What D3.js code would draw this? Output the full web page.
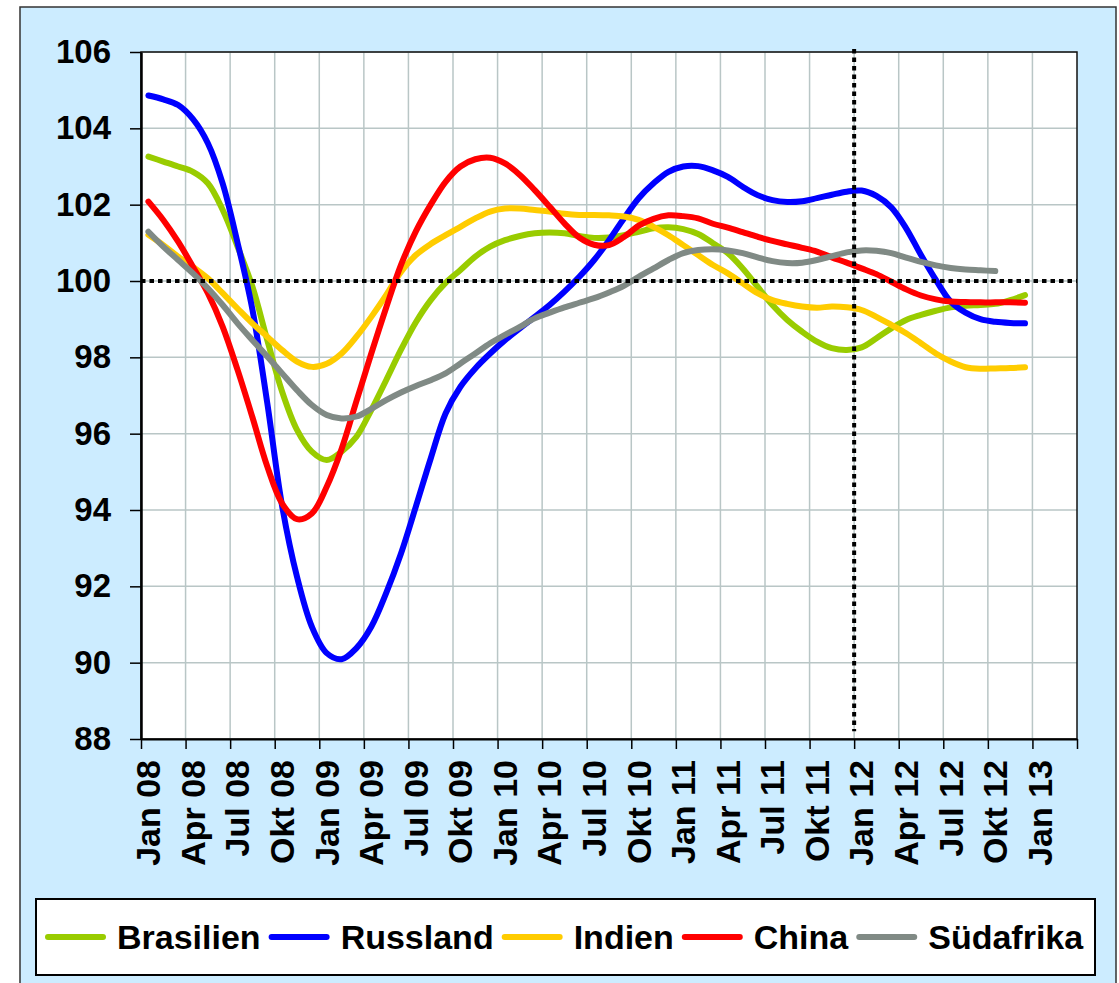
<!DOCTYPE html>
<html>
<head>
<meta charset="utf-8">
<script src="https://cdn.jsdelivr.net/npm/d3@7"></script>
<style>
  body { margin: 0; background: #fff; }
  svg text { font-family: "Liberation Sans", Arial, sans-serif; font-weight: bold; fill: #000; }
</style>
</head>
<body>
<div id="chart"></div>
<script>
// axis: one category per month, Jan 08 .. Mar 13
const nMonths = 63;
const tickLabels = ["Jan 08","Apr 08","Jul 08","Okt 08","Jan 09","Apr 09","Jul 09","Okt 09",
  "Jan 10","Apr 10","Jul 10","Okt 10","Jan 11","Apr 11","Jul 11","Okt 11",
  "Jan 12","Apr 12","Jul 12","Okt 12","Jan 13"];
const yTicks = [88, 90, 92, 94, 96, 98, 100, 102, 104, 106];

// monthly values from Jan 08
const brasilien = [103.26,103.13,103.0,102.86,102.56,101.86,100.9,99.85,98.45,97.1,
  96.1,95.53,95.31,95.53,95.92,96.62,97.4,98.2,98.92,99.5,
  99.95,100.29,100.64,100.9,101.07,101.18,101.25,101.27,101.25,101.18,
  101.13,101.14,101.2,101.29,101.38,101.41,101.36,101.23,100.99,100.73,
  100.33,99.85,99.37,98.98,98.67,98.41,98.24,98.19,98.26,98.5,
  98.76,98.98,99.11,99.22,99.31,99.35,99.37,99.4,99.5,99.63];
const russland = [104.86,104.76,104.61,104.24,103.61,102.55,101.0,99.25,96.8,94.1,
  92.25,90.94,90.25,90.09,90.38,90.94,91.82,92.86,94.09,95.35,
  96.53,97.23,97.71,98.1,98.45,98.76,99.06,99.37,99.72,100.11,
  100.55,101.07,101.64,102.17,102.56,102.86,103.0,103.01,102.9,102.73,
  102.47,102.25,102.12,102.07,102.09,102.17,102.26,102.34,102.37,102.23,
  101.93,101.38,100.68,100.03,99.46,99.17,99.0,98.93,98.9,98.89];
const indien = [101.21,100.94,100.64,100.37,100.07,99.68,99.28,98.89,98.54,98.19,
  97.89,97.75,97.83,98.1,98.54,99.06,99.63,100.24,100.68,100.97,
  101.2,101.42,101.64,101.82,101.9,101.9,101.86,101.82,101.76,101.73,
  101.73,101.72,101.69,101.6,101.42,101.2,100.94,100.68,100.42,100.2,
  99.94,99.68,99.5,99.4,99.33,99.3,99.33,99.31,99.24,99.06,
  98.85,98.63,98.37,98.1,97.89,97.74,97.7,97.71,97.72,97.74];
const china = [102.08,101.6,101.03,100.37,99.68,98.8,97.67,96.43,95.14,94.17,
  93.76,93.91,94.61,95.6,96.85,98.1,99.3,100.42,101.3,102.0,
  102.6,103.0,103.19,103.23,103.08,102.78,102.38,101.95,101.51,101.14,
  100.95,100.94,101.15,101.45,101.63,101.72,101.7,101.64,101.5,101.4,
  101.28,101.16,101.05,100.96,100.87,100.77,100.62,100.48,100.33,100.18,
  99.98,99.78,99.62,99.52,99.46,99.45,99.44,99.44,99.44,99.43];
const suedafrika = [101.29,100.9,100.55,100.2,99.81,99.37,98.89,98.45,98.02,97.58,
  97.14,96.75,96.49,96.4,96.45,96.65,96.88,97.08,97.25,97.4,
  97.58,97.84,98.1,98.37,98.59,98.8,99.02,99.17,99.31,99.43,
  99.55,99.7,99.87,100.11,100.33,100.55,100.73,100.81,100.83,100.8,
  100.73,100.62,100.52,100.47,100.48,100.55,100.65,100.75,100.8,100.79,
  100.73,100.61,100.5,100.41,100.34,100.3,100.28,100.26];

const seriesNames = ["Brasilien", "Russland", "Indien", "China", "Südafrika"];
const seriesValues = [brasilien, russland, indien, china, suedafrika];
const seriesColors = ["#99cc00", "#0000ff", "#ffcc00", "#ff0000", "#808a85"];

const refValue = 100;      // horizontal dotted line
const refMonth = 48;       // vertical dotted line at Jan 12

const svg = d3.select("#chart").append("svg")
  .attr("width", 1119)
  .attr("height", 983);

svg.append("rect")
  .attr("x", 20).attr("y", 7)
  .attr("width", 1096).attr("height", 1000)
  .attr("fill", "#ccecff")
  .attr("stroke", "#333")
  .attr("stroke-width", 1.5);

const margin = {top: 52, left: 141},
      width = 936,
      height = 687;

const g = svg.append("g").attr("transform", `translate(${margin.left},${margin.top})`);

const x = d3.scaleLinear().domain([0, nMonths]).range([0, width]);
const y = d3.scaleLinear().domain([88, 106]).range([height, 0]);

g.append("rect").attr("width", width).attr("height", height).attr("fill", "#fff");

// grid
g.append("g").selectAll("line").data(yTicks).join("line")
  .attr("x1", 0).attr("x2", width)
  .attr("y1", d => y(d)).attr("y2", d => y(d))
  .attr("stroke", "#b9c6c6").attr("stroke-width", 1.5);
g.append("g").selectAll("line").data(d3.range(3, nMonths, 3)).join("line")
  .attr("x1", d => x(d)).attr("x2", d => x(d))
  .attr("y1", 0).attr("y2", height)
  .attr("stroke", "#b9c6c6").attr("stroke-width", 1.5);

g.append("rect").attr("width", width).attr("height", height)
  .attr("fill", "none").attr("stroke", "#111").attr("stroke-width", 1.5);

const line = d3.line()
  .x((d, i) => x(i + 0.5))
  .y(d => y(d))
  .curve(d3.curveCatmullRom.alpha(0.5));

seriesValues.forEach((vals, k) => {
  g.append("path")
    .datum(vals)
    .attr("fill", "none")
    .attr("stroke", seriesColors[k])
    .attr("stroke-width", 6)
    .attr("stroke-linecap", "round")
    .attr("stroke-linejoin", "round")
    .attr("d", line);
});

// dotted reference lines
g.append("line")
  .attr("x1", 0).attr("x2", width)
  .attr("y1", y(refValue)).attr("y2", y(refValue))
  .attr("stroke", "#000").attr("stroke-width", 4)
  .attr("stroke-dasharray", "4.5,4");
g.append("line")
  .attr("x1", x(refMonth)).attr("x2", x(refMonth))
  .attr("y1", -3).attr("y2", y(88.2))
  .attr("stroke", "#000").attr("stroke-width", 4)
  .attr("stroke-dasharray", "4.5,4");

// axes
const yAxis = g.append("g")
  .call(d3.axisLeft(y).tickValues(yTicks).tickSize(11).tickSizeOuter(0).tickPadding(19));
yAxis.select(".domain").attr("stroke", "#000").attr("stroke-width", 2.5);
yAxis.selectAll(".tick line").attr("stroke", "#000").attr("stroke-width", 1.5);
yAxis.selectAll(".tick text").attr("font-size", 33).attr("font-family", null);

const xAxis = g.append("g")
  .attr("transform", `translate(0,${height})`)
  .call(d3.axisBottom(x).tickValues(d3.range(0, nMonths + 1, 3)).tickSize(10).tickSizeOuter(0).tickFormat(""));
xAxis.select(".domain").attr("stroke", "#000").attr("stroke-width", 2);
xAxis.selectAll(".tick line").attr("stroke", "#000").attr("stroke-width", 1.5);

g.append("g").selectAll("text").data(tickLabels).join("text")
  .attr("transform", (d, i) => `translate(${x(i * 3 + 0.5)},${height + 21}) rotate(-90)`)
  .attr("text-anchor", "end")
  .attr("dy", "0.35em")
  .attr("font-size", 34)
  .text(d => d);

// legend
svg.append("rect")
  .attr("x", 36).attr("y", 899)
  .attr("width", 1059).attr("height", 76)
  .attr("fill", "#fff")
  .attr("stroke", "#000").attr("stroke-width", 2);

let lx = 48;
const ly = 937;
seriesNames.forEach((name, k) => {
  svg.append("line")
    .attr("x1", lx).attr("x2", lx + 55)
    .attr("y1", ly).attr("y2", ly)
    .attr("stroke", seriesColors[k])
    .attr("stroke-width", 6)
    .attr("stroke-linecap", "round");
  const t = svg.append("text")
    .attr("x", lx + 69).attr("y", ly)
    .attr("dy", "0.35em")
    .attr("font-size", 34)
    .text(name);
  lx = lx + 69 + t.node().getComputedTextLength() + 11;
});
</script>
</body>
</html>
